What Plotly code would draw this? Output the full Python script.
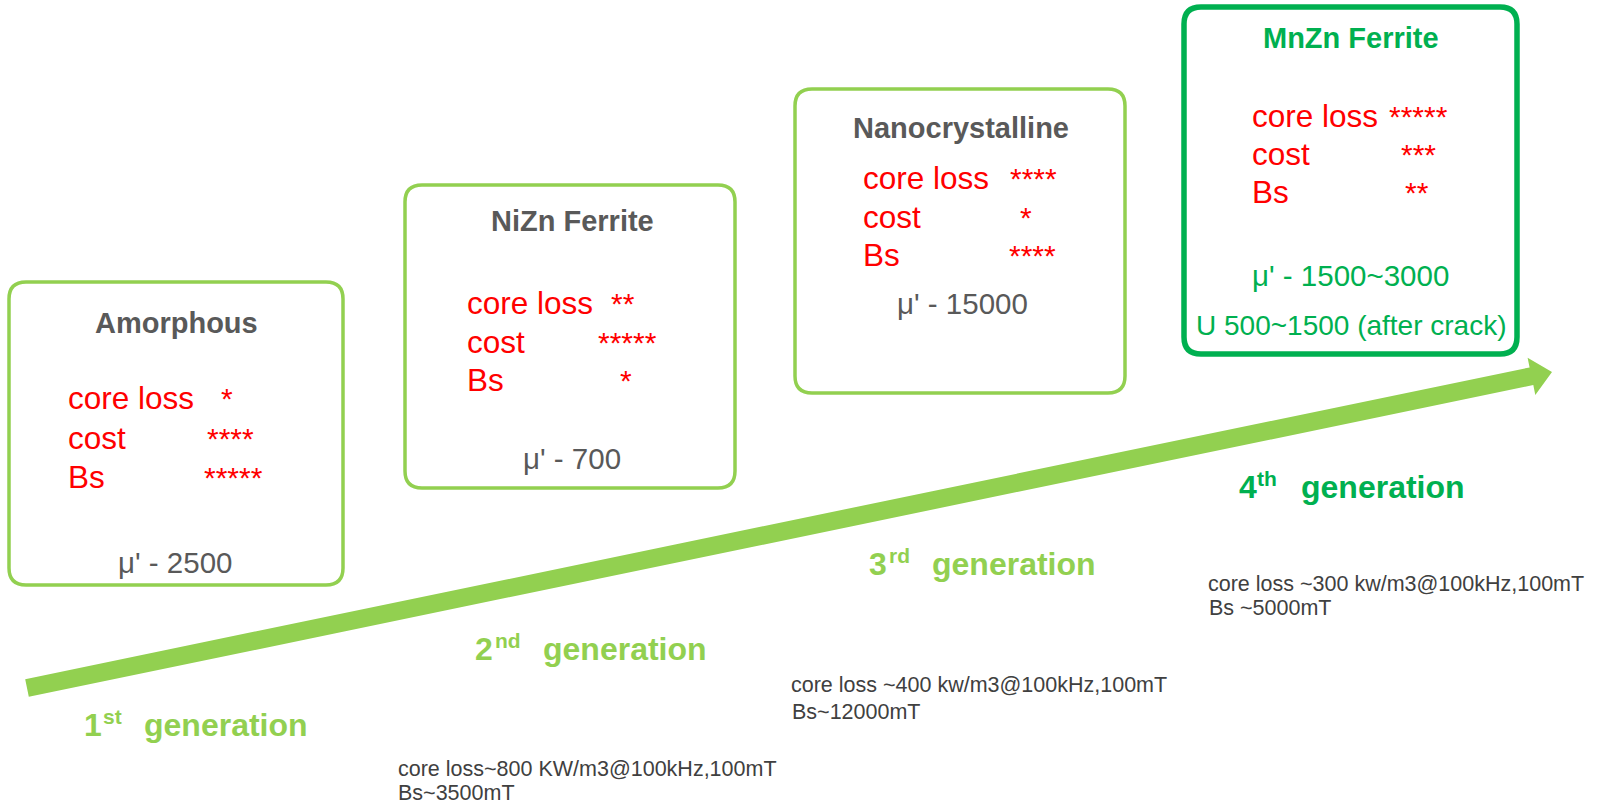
import plotly.graph_objects as go
import math

# ---------------- data ----------------
materials = ["Amorphous", "NiZn Ferrite", "Nanocrystalline", "MnZn Ferrite"]
metric_names = ["core loss", "cost", "Bs"]
core_loss_stars = [1, 2, 4, 5]
cost_stars = [4, 5, 1, 3]
bs_stars = [5, 1, 4, 2]
permeability = ["μ' - 2500", "μ' - 700", "μ' - 15000", "μ' - 1500~3000"]
mnzn_note = "U 500~1500 (after crack)"
gen_numbers = ["1", "2", "3", "4"]
gen_suffix = ["st", "nd", "rd", "th"]
gen_word = "generation"
spec_core_loss = ["core loss~800 KW/m3@100kHz,100mT",
                  "core loss ~400 kw/m3@100kHz,100mT",
                  "core loss ~300 kw/m3@100kHz,100mT"]
spec_bs = ["Bs~3500mT", "Bs~12000mT", "Bs ~5000mT"]

# ---------------- layout (pixel space) ----------------
W, H = 1598, 804
FONT = "Liberation Sans, Arial, sans-serif"
LIGHT = "#92D050"
DARK = "#00B050"
RED = "#FF0000"
GREY = "#595959"
SPEC = "#404040"

boxes = [(9, 343, 282, 585), (405, 735, 185, 488), (795, 1125, 89, 393), (1184, 1517, 7, 354)]
box_line = [(LIGHT, 3.5), (LIGHT, 3.5), (LIGHT, 3.5), (DARK, 5.5)]
title_pos = [(176, 323), (572, 221), (961, 128), (1351, 38)]
title_col = [GREY, GREY, GREY, DARK]
label_x = [67, 466, 862, 1251]
line_y = [[398, 438, 477], [303, 342, 380], [178, 217, 255], [116, 154, 192]]
star_x = [[227, 230, 233], [623, 627, 626], [1033, 1026, 1032], [1418, 1418, 1417]]
mu_pos = [(175, 562), (572, 458), (962, 303), (1350, 275)]
mu_col = [GREY, GREY, GREY, DARK]
note_pos = (1351, 325)

gen_pos = [(83, 102, 143, 725), (474, 494, 542, 649), (868, 888, 931, 564), (1238, 1256, 1300, 487)]
gen_col = [LIGHT, LIGHT, LIGHT, DARK]
spec_pos = [((397, 769), (397, 793)), ((790, 685), (791, 712)), ((1207, 584), (1208, 608))]

arrow_start = (27, 688)
arrow_tip = (1552, 372)

fig = go.Figure()
shapes = []
ann = []


def rrect(x0, x1, y0, y1, r):
    return (f"M {x0+r},{y0} L {x1-r},{y0} Q {x1},{y0} {x1},{y0+r} "
            f"L {x1},{y1-r} Q {x1},{y1} {x1-r},{y1} L {x0+r},{y1} "
            f"Q {x0},{y1} {x0},{y1-r} L {x0},{y0+r} Q {x0},{y0} {x0+r},{y0} Z")


# arrow
sx, sy = arrow_start
tx, ty = arrow_tip
L = math.hypot(tx - sx, ty - sy)
ux, uy = (tx - sx) / L, (ty - sy) / L
nx, ny = -uy, ux
w, hl, hw = 9, 21, 19
bx, by = tx - hl * ux, ty - hl * uy
pts = [(sx + w * nx, sy + w * ny), (bx + w * nx, by + w * ny), (bx + hw * nx, by + hw * ny),
       (tx, ty), (bx - hw * nx, by - hw * ny), (bx - w * nx, by - w * ny), (sx - w * nx, sy - w * ny)]
path = "M " + " L ".join(f"{x:.1f},{y:.1f}" for x, y in pts) + " Z"
shapes.append(dict(type="path", path=path, xref="x", yref="y", fillcolor=LIGHT,
                   line=dict(width=0), layer="below"))

# boxes
for (x0, x1, y0, y1), (c, lw) in zip(boxes, box_line):
    shapes.append(dict(type="path", path=rrect(x0, x1, y0, y1, 17), xref="x", yref="y",
                       fillcolor="rgba(0,0,0,0)", line=dict(color=c, width=lw)))

stars = [core_loss_stars, cost_stars, bs_stars]
for i, name in enumerate(materials):
    ann.append(dict(x=title_pos[i][0], y=title_pos[i][1], text=f"<b>{name}</b>",
                    font=dict(family=FONT, size=29, color=title_col[i]),
                    xanchor="center", yanchor="middle"))
    for j, m in enumerate(metric_names):
        ann.append(dict(x=label_x[i], y=line_y[i][j], text=m,
                        font=dict(family=FONT, size=31.5, color=RED),
                        xanchor="left", yanchor="middle"))
        ann.append(dict(x=star_x[i][j], y=line_y[i][j], text="*" * stars[j][i],
                        font=dict(family=FONT, size=30, color=RED),
                        xanchor="center", yanchor="middle"))
    ann.append(dict(x=mu_pos[i][0], y=mu_pos[i][1], text=permeability[i],
                    font=dict(family=FONT, size=29.5, color=mu_col[i]),
                    xanchor="center", yanchor="middle"))
ann.append(dict(x=note_pos[0], y=note_pos[1], text=mnzn_note,
                font=dict(family=FONT, size=28, color=DARK),
                xanchor="center", yanchor="middle"))

for i in range(4):
    dx, sfx, wx, gy = gen_pos[i]
    ann.append(dict(x=dx, y=gy, text=f"<b>{gen_numbers[i]}</b>",
                    font=dict(family=FONT, size=32, color=gen_col[i]), xanchor="left", yanchor="middle"))
    ann.append(dict(x=sfx, y=gy - 9, text=f"<b>{gen_suffix[i]}</b>",
                    font=dict(family=FONT, size=21, color=gen_col[i]), xanchor="left", yanchor="middle"))
    ann.append(dict(x=wx, y=gy, text=f"<b>{gen_word}</b>",
                    font=dict(family=FONT, size=32, color=gen_col[i]), xanchor="left", yanchor="middle"))

for i in range(3):
    (x1_, y1_), (x2_, y2_) = spec_pos[i]
    ann.append(dict(x=x1_, y=y1_, text=spec_core_loss[i],
                    font=dict(family=FONT, size=21.5, color=SPEC), xanchor="left", yanchor="middle"))
    ann.append(dict(x=x2_, y=y2_, text=spec_bs[i],
                    font=dict(family=FONT, size=21.5, color=SPEC), xanchor="left", yanchor="middle"))

for a in ann:
    a.update(xref="x", yref="y", showarrow=False, borderpad=0)

fig.update_layout(
    width=W, height=H, margin=dict(l=0, r=0, t=0, b=0, pad=0),
    paper_bgcolor="white", plot_bgcolor="white",
    xaxis=dict(range=[0, W], visible=False, fixedrange=True),
    yaxis=dict(range=[H, 0], visible=False, fixedrange=True),
    shapes=shapes, annotations=ann, showlegend=False,
)
fig.write_html("out.html", config={"displayModeBar": False},
               post_script="document.body.style.margin='0';document.body.style.overflow='hidden';")
